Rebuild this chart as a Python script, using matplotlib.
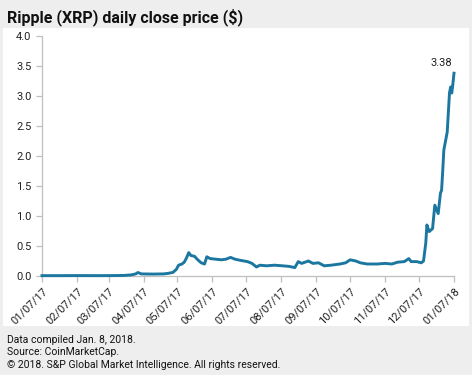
import matplotlib

matplotlib.use("Agg")
import matplotlib.pyplot as plt
import matplotlib.dates as mdates
from matplotlib.patches import Rectangle
import numpy as np

# Daily close, USD
dates = [
    "2017-01-07", "2017-01-20", "2017-02-07", "2017-02-25", "2017-03-10",
    "2017-03-20", "2017-03-27", "2017-03-31", "2017-04-02", "2017-04-05",
    "2017-04-15", "2017-04-25", "2017-04-29", "2017-05-03", "2017-05-06",
    "2017-05-08", "2017-05-11", "2017-05-13", "2017-05-15", "2017-05-17",
    "2017-05-19", "2017-05-22", "2017-05-25", "2017-05-28", "2017-05-31",
    "2017-06-02", "2017-06-05", "2017-06-10", "2017-06-15", "2017-06-19",
    "2017-06-23", "2017-06-27", "2017-07-02", "2017-07-08", "2017-07-12",
    "2017-07-16", "2017-07-19", "2017-07-25", "2017-08-01", "2017-08-08",
    "2017-08-14", "2017-08-19", "2017-08-22", "2017-08-25", "2017-08-31",
    "2017-09-04", "2017-09-09", "2017-09-14", "2017-09-20", "2017-09-28",
    "2017-10-03", "2017-10-07", "2017-10-12", "2017-10-16", "2017-10-22",
    "2017-10-31", "2017-11-07", "2017-11-13", "2017-11-18", "2017-11-24",
    "2017-11-28", "2017-11-30", "2017-12-05", "2017-12-09", "2017-12-11",
    "2017-12-12", "2017-12-13", "2017-12-14", "2017-12-16", "2017-12-19",
    "2017-12-21", "2017-12-24", "2017-12-26", "2017-12-27", "2017-12-28",
    "2017-12-29", "2017-12-30", "2018-01-01", "2018-01-03", "2018-01-04",
    "2018-01-05", "2018-01-06", "2018-01-07",
]
close = [
    0.006, 0.006, 0.007, 0.006, 0.007,
    0.009, 0.018, 0.035, 0.058, 0.035,
    0.032, 0.035, 0.045, 0.06, 0.11,
    0.18, 0.20, 0.23, 0.30, 0.39,
    0.34, 0.33, 0.27, 0.22, 0.20,
    0.32, 0.29, 0.28, 0.27, 0.28,
    0.31, 0.28, 0.26, 0.24, 0.21,
    0.15, 0.18, 0.17, 0.18, 0.17,
    0.16, 0.14, 0.24, 0.21, 0.25,
    0.21, 0.22, 0.17, 0.18, 0.20,
    0.22, 0.27, 0.25, 0.22, 0.20,
    0.20, 0.21, 0.20, 0.23, 0.24,
    0.29, 0.24, 0.24, 0.22, 0.25,
    0.40, 0.55, 0.85, 0.74, 0.79,
    1.18, 1.04, 1.38, 1.43, 1.75,
    2.10, 2.20, 2.40, 3.05, 3.15,
    3.05, 3.20, 3.38,
]
tick_dates = ["2017-01-07", "2017-02-07", "2017-03-07", "2017-04-07", "2017-05-07",
              "2017-06-07", "2017-07-07", "2017-08-07", "2017-09-07", "2017-10-07",
              "2017-11-07", "2017-12-07", "2018-01-07"]
y_ticks = [0.0, 0.5, 1.0, 1.5, 2.0, 2.5, 3.0, 3.5, 4.0]

BG = "#eeeeee"
LINE = "#1b77a0"
AXIS = "#bfbfbf"

plt.rcParams.update({"font.family": ["Roboto", "DejaVu Sans"]})

x = np.array(dates, dtype="datetime64[D]")
xt = np.array(tick_dates, dtype="datetime64[D]")

fig = plt.figure(figsize=(4.72, 3.75), dpi=100, facecolor=BG)
fig.patches.append(Rectangle((3 / 472, 1 - 326 / 375), 466 / 472, 298 / 375,
                             transform=fig.transFigure, facecolor="white",
                             edgecolor="none", zorder=0))
ax = fig.add_axes([42 / 472, 1 - 276 / 375, 412 / 472, 240 / 375])
ax.set_zorder(2)
ax.set_facecolor("none")

ax.plot(x, close, color=LINE, lw=2.1, solid_joinstyle="round", zorder=3,
        clip_on=False)
ax.annotate(f"{close[-1]:.2f}", (x[-1], close[-1]), textcoords="offset points",
            xytext=(-1, 4), ha="right", va="bottom", fontsize=8, color="#222222")

ax.set_xlim(xt[0], xt[-1])
ax.set_ylim(0, 4)
ax.set_yticks(y_ticks)
ax.set_yticklabels([f"{v:.1f}" for v in y_ticks])
ax.set_xticks(xt)
ax.xaxis.set_major_formatter(mdates.DateFormatter("%m/%d/%y"))
for lbl in ax.get_xticklabels():
    lbl.set_rotation(45)
    lbl.set_ha("right")
    lbl.set_rotation_mode("anchor")

for s in ["top", "right"]:
    ax.spines[s].set_visible(False)
for s in ["left", "bottom"]:
    ax.spines[s].set_color(AXIS)
    ax.spines[s].set_linewidth(0.9)
ax.tick_params(axis="both", colors=AXIS, length=4, width=0.9,
               labelsize=8, labelcolor="#222222")

fig.text(7 / 472, 1 - 17 / 375, "Ripple (XRP) daily close price ($)",
         fontsize=11.5, fontweight="semibold", va="center", ha="left",
         color="#111111")
footer = ("Data compiled Jan. 8, 2018.\nSource: CoinMarketCap.\n"
          "\u00a9 2018. S&P Global Market Intelligence. All rights reserved.")
fig.text(7 / 472, 1 - 335 / 375, footer, fontsize=7.5, va="top", ha="left",
         color="#111111", linespacing=1.3)

fig.savefig("out.png", dpi=100, facecolor=BG)
